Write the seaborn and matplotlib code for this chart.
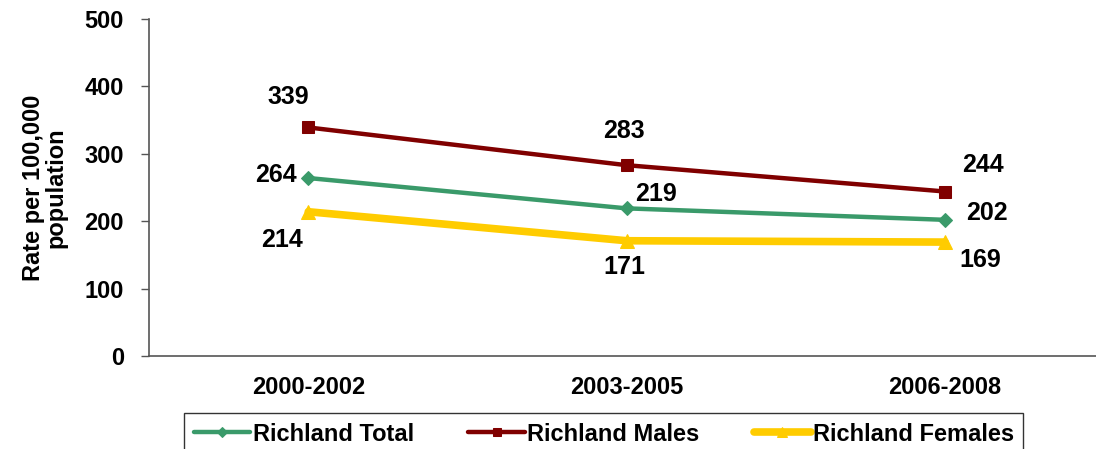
import pandas as pd
import seaborn as sns
import matplotlib.pyplot as plt

periods = ["2000-2002", "2003-2005", "2006-2008"]
total = [264, 219, 202]
males = [339, 283, 244]
females = [214, 171, 169]

series = ["Richland Total", "Richland Males", "Richland Females"]
colors = {"Richland Total": "#3A9A6A", "Richland Males": "#800000", "Richland Females": "#FFCC00"}
markers = {"Richland Total": "D", "Richland Males": "s", "Richland Females": "^"}
msizes = {"Richland Total": 7, "Richland Males": 8.5, "Richland Females": 10}
lwidths = {"Richland Total": 3.2, "Richland Males": 3.2, "Richland Females": 5.5}

df = pd.DataFrame({
    "period": periods * 3,
    "rate": total + males + females,
    "series": [s for s in series for _ in periods],
})

sns.set_style("white")
plt.rcParams['font.family'] = ['Liberation Sans', 'DejaVu Sans']
plt.rcParams['font.weight'] = 'bold'
plt.rcParams['text.color'] = 'black'
plt.rcParams['xtick.color'] = 'black'
plt.rcParams['ytick.color'] = 'black'
plt.rcParams['axes.labelcolor'] = 'black'

fig = plt.figure(figsize=(10.96, 4.49), dpi=100)
ax = fig.add_axes([0.136, 0.207, 0.864, 0.751])

for s in series:
    sub = df[df["series"] == s]
    sns.lineplot(data=sub, x="period", y="rate", ax=ax, color=colors[s], marker=markers[s],
                 markersize=msizes[s], markeredgecolor=colors[s], linewidth=lwidths[s], label=s)

# label offsets in pixels (dx, dy)
offsets = {
    "Richland Total": [(-32, 3), (29, 14), (42, 7)],
    "Richland Males": [(-20, 30), (-3, 34), (38, 27)],
    "Richland Females": [(-26, -28), (-2, -26), (35, -18)],
}
for s in series:
    sub = df[df["series"] == s].reset_index(drop=True)
    for i, r in sub.iterrows():
        ax.annotate(str(r["rate"]), xy=(i, r["rate"]), xytext=offsets[s][i],
                    textcoords="offset pixels", ha="center", va="center",
                    fontsize=18, fontweight="bold", color="black")

ax.set_ylim(0, 500)
ax.set_yticks([0, 100, 200, 300, 400, 500])
ax.set_xlim(-0.5, 2.474)
ax.set_xticks([-0.5, 0.5, 1.5], minor=True)
ax.tick_params(axis="x", which="major", length=0, pad=14, labelsize=17)
ax.tick_params(axis="x", which="minor", length=6, direction="out", width=1, color="#555555")
ax.tick_params(axis="y", length=6, direction="out", width=1, color="#555555", labelsize=17,
               left=True, pad=12)
ax.set_xlabel("")
ax.set_ylabel("Rate per 100,000\npopulation", fontsize=17, fontweight="bold", labelpad=12,
              linespacing=1.0)
for sp in ["top", "right"]:
    ax.spines[sp].set_visible(False)
for sp in ["left", "bottom"]:
    ax.spines[sp].set_color("#555555")
    ax.spines[sp].set_linewidth(1.2)

ax.get_legend().remove()
h, l = ax.get_legend_handles_labels()
leg = fig.legend(h, l, loc="upper center", bbox_to_anchor=(0.551, 0.08), ncol=3,
                 fontsize=17, frameon=True, fancybox=False, edgecolor="black",
                 handlelength=2.4, handletextpad=0.1, columnspacing=2.3,
                 borderpad=0.4, borderaxespad=0, markerscale=0.75)
leg.get_frame().set_linewidth(1.0)

fig.savefig("out.png", dpi=100)
